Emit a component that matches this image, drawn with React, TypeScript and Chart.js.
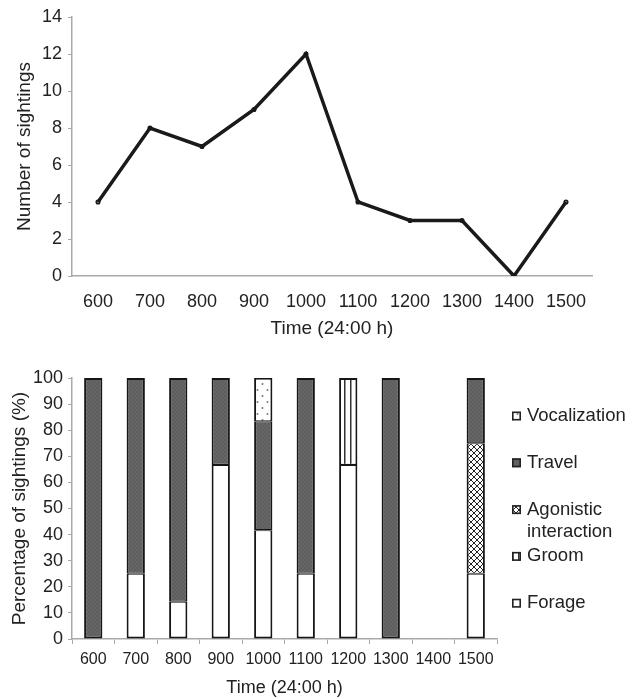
import React, { useEffect, useRef } from "react";
import { Chart, registerables } from "chart.js";

Chart.register(...registerables);

const hours = ["600", "700", "800", "900", "1000", "1100", "1200", "1300", "1400", "1500"];
const sightings = [4, 8, 7, 9, 12, 4, 3, 3, 0, 4];

const forage = [0, 25, 14.3, 66.7, 41.7, 25, 66.7, 0, 0, 25];
const groom = [0, 0, 0, 0, 0, 0, 33.3, 0, 0, 0];
const agonistic = [0, 0, 0, 0, 0, 0, 0, 0, 0, 50];
const travel = [100, 75, 85.7, 33.3, 41.7, 75, 0, 100, 0, 25];
const vocalization = [0, 0, 0, 0, 16.7, 0, 0, 0, 0, 0];

const FONT = '"Liberation Sans", Arial, sans-serif';
const TEXT = "#222";
const AXIS = "#a9a9a9";
const TICK_SIZE = 18;
const TITLE_SIZE = 19;

function makePattern(kind: string): CanvasPattern | string {
  const c = document.createElement("canvas");
  const ctx = c.getContext("2d");
  if (!ctx) return "#fff";
  if (kind === "dots") {
    c.width = 10; c.height = 12;
    ctx.fillStyle = "#fff"; ctx.fillRect(0, 0, 10, 12);
    ctx.fillStyle = "#777";
    ctx.beginPath(); ctx.arc(2.5, 3, 1, 0, Math.PI * 2); ctx.fill();
    ctx.beginPath(); ctx.arc(7.5, 9, 1, 0, Math.PI * 2); ctx.fill();
  } else if (kind === "cross") {
    c.width = 6; c.height = 6;
    ctx.fillStyle = "#fff"; ctx.fillRect(0, 0, 6, 6);
    ctx.strokeStyle = "#222"; ctx.lineWidth = 1;
    ctx.beginPath();
    ctx.moveTo(-1, -1); ctx.lineTo(7, 7);
    ctx.moveTo(-1, 7); ctx.lineTo(7, -1);
    ctx.stroke();
  } else if (kind === "vstripe") {
    c.width = 6; c.height = 4;
    ctx.fillStyle = "#fff"; ctx.fillRect(0, 0, 6, 4);
    ctx.fillStyle = "#333"; ctx.fillRect(2, 0, 1.5, 4);
  } else if (kind === "travel") {
    c.width = 4; c.height = 4;
    ctx.fillStyle = "#5e5e5e"; ctx.fillRect(0, 0, 4, 4);
    ctx.fillStyle = "#666"; ctx.fillRect(0, 0, 2, 2); ctx.fillRect(2, 2, 2, 2);
  }
  const p = ctx.createPattern(c, "repeat");
  return p || "#fff";
}

const series = [forage, groom, agonistic, travel, vocalization];

function segBorder(ctx: any) {
  const i = ctx.dataIndex;
  const di = ctx.datasetIndex;
  let isTop = true;
  for (let k = di + 1; k < series.length; k++) if (series[k][i]) isTop = false;
  let isBottom = true;
  for (let k = 0; k < di; k++) if (series[k][i]) isBottom = false;
  return { left: 2, right: 2, top: isTop ? 2 : 1.1, bottom: isBottom ? 2 : 1.1 };
}

const legendPlugin = {
  id: "customLegend",
  afterDraw(chart: any) {
    const ctx = chart.ctx;
    const ds = chart.data.datasets;
    const x0 = 512;
    const y0 = 71;
    const pitch = 46.8;
    ctx.save();
    ctx.font = `18.5px ${FONT}`;
    ctx.textBaseline = "middle";
    ctx.fillStyle = TEXT;
    for (let i = 0; i < ds.length; i++) {
      const d = ds[ds.length - 1 - i];
      const y = y0 + i * pitch;
      ctx.fillStyle = d.backgroundColor;
      ctx.fillRect(x0, y - 4.5, 9, 9);
      ctx.strokeStyle = "#222";
      ctx.lineWidth = 1.6;
      ctx.strokeRect(x0 + 0.8, y - 3.7, 7.4, 7.4);
      ctx.fillStyle = TEXT;
      const lines = String(d.label).split("\n");
      lines.forEach((ln: string, k: number) => {
        ctx.fillText(ln, x0 + 15, y + k * 22);
      });
    }
    ctx.restore();
  },
};

export default function App() {
  const topRef = useRef<HTMLCanvasElement>(null);
  const botRef = useRef<HTMLCanvasElement>(null);

  useEffect(() => {
    Chart.defaults.font.family = FONT;
    Chart.defaults.color = TEXT;

    const top = new Chart(topRef.current as HTMLCanvasElement, {
      type: "line",
      data: {
        labels: hours,
        datasets: [
          {
            label: "Number of sightings",
            data: sightings,
            borderColor: "#1a1a1a",
            backgroundColor: "#1a1a1a",
            borderWidth: 3.5,
            pointRadius: 0.8,
            tension: 0,
          },
        ],
      },
      options: {
        responsive: false,
        animation: false,
        layout: { padding: { top: 17, right: 43, left: 0, bottom: 0 } },
        plugins: { legend: { display: false }, tooltip: { enabled: false } },
        scales: {
          x: {
            type: "category",
            offset: true,
            afterFit: (s: any) => { s.height = 69; },
            grid: { display: false },
            border: { display: true, color: AXIS, width: 1.5 },
            ticks: { font: { size: TICK_SIZE }, color: TEXT, padding: 7, maxRotation: 0, autoSkip: false },
            title: { display: true, text: "Time (24:00 h)", font: { size: TITLE_SIZE }, color: TEXT, padding: { top: 0, bottom: 5 } },
          },
          y: {
            min: 0,
            max: 14,
            afterFit: (s: any) => { s.width = 72; },
            grid: { display: true, drawOnChartArea: false, drawTicks: true, tickLength: 4, color: AXIS },
            border: { display: true, color: AXIS, width: 1.5 },
            ticks: { stepSize: 2, font: { size: TICK_SIZE }, color: TEXT, padding: 6 },
            title: { display: true, text: "Number of sightings", font: { size: TITLE_SIZE }, color: TEXT, padding: { top: 13, bottom: 0 } },
          },
        },
      },
    } as any);

    const bot = new Chart(botRef.current as HTMLCanvasElement, {
      type: "bar",
      data: {
        labels: hours,
        datasets: [
          { label: "Forage", data: forage, backgroundColor: "#ffffff" },
          { label: "Groom", data: groom, backgroundColor: makePattern("vstripe") },
          { label: "Agonistic\ninteraction", data: agonistic, backgroundColor: makePattern("cross") },
          { label: "Travel", data: travel, backgroundColor: makePattern("travel") },
          { label: "Vocalization", data: vocalization, backgroundColor: makePattern("dots") },
        ].map((d) => ({
          ...d,
          data: d.data.map((v) => (v === 0 ? null : v)),
          borderColor: "#161616",
          borderWidth: segBorder,
          borderSkipped: false,
          categoryPercentage: 1,
          barPercentage: 0.43,
        })),
      },
      options: {
        responsive: false,
        animation: false,
        layout: { padding: { top: 33, right: 138, left: 0, bottom: 0 } },
        plugins: { legend: { display: false }, tooltip: { enabled: false } },
        scales: {
          x: {
            stacked: true,
            afterFit: (s: any) => { s.height = 60; },
            grid: { display: true, drawOnChartArea: false, drawTicks: true, tickLength: 5, color: AXIS, offset: true },
            border: { display: true, color: AXIS, width: 1.5 },
            ticks: { font: { size: 16 }, color: TEXT, padding: 6, maxRotation: 0, autoSkip: false },
            title: { display: true, text: "Time (24:00 h)", font: { size: 18 }, color: TEXT, padding: { top: 0, bottom: 0 } },
          },
          y: {
            stacked: true,
            min: 0,
            max: 100,
            afterFit: (s: any) => { s.width = 72; },
            grid: { display: true, drawOnChartArea: false, drawTicks: true, tickLength: 4, color: AXIS },
            border: { display: true, color: AXIS, width: 1.5 },
            ticks: { stepSize: 10, font: { size: TICK_SIZE }, color: TEXT, padding: 5 },
            title: { display: true, text: "Percentage of sightings (%)", font: { size: TITLE_SIZE }, color: TEXT, padding: { top: 8, bottom: 0 } },
          },
        },
      },
      plugins: [legendPlugin],
    } as any);

    return () => {
      top.destroy();
      bot.destroy();
    };
  }, []);

  return (
    <div style={{ position: "absolute", left: 0, top: 0, width: 635, height: 699, background: "#fff" }}>
      <canvas ref={topRef} width={635} height={345} style={{ display: "block", width: 635, height: 345 }} />
      <canvas ref={botRef} width={635} height={354} style={{ display: "block", width: 635, height: 354 }} />
    </div>
  );
}
